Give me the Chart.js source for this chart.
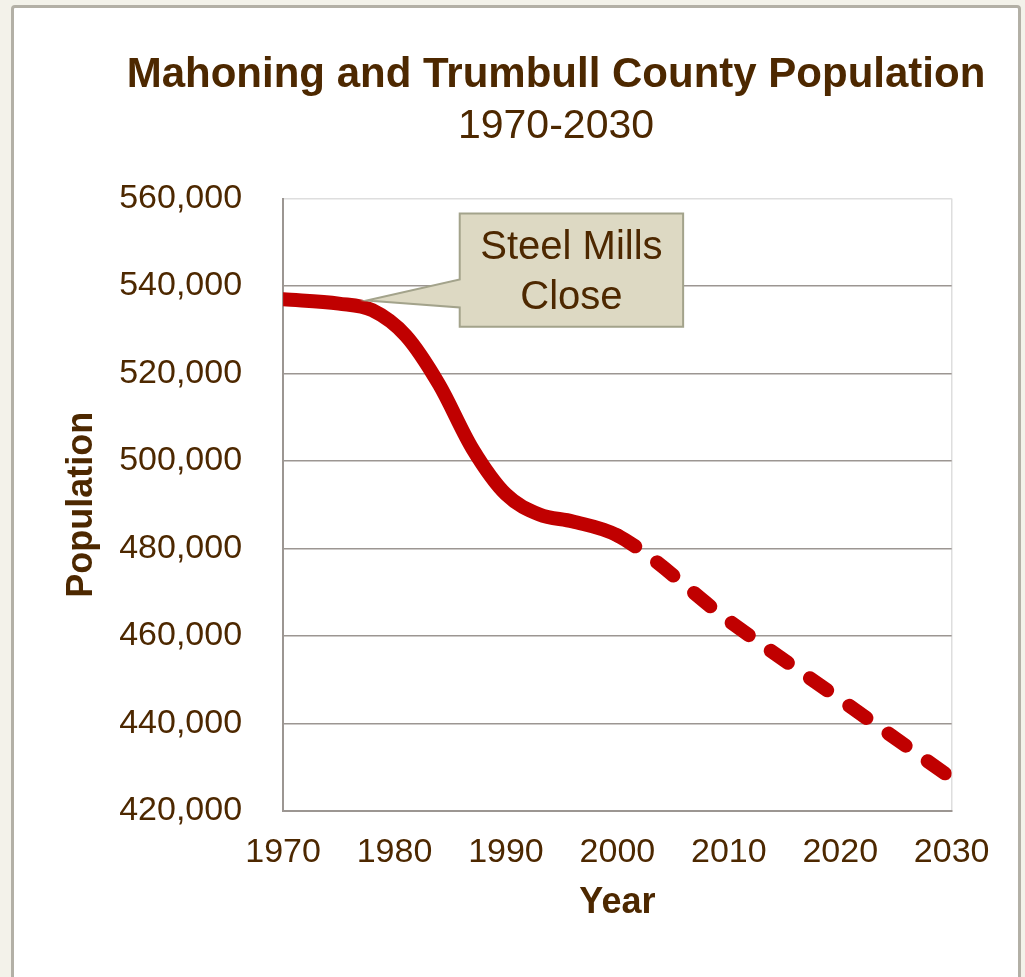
<!DOCTYPE html>
<html>
<head>
<meta charset="utf-8">
<title>Mahoning and Trumbull County Population</title>
<script src="https://cdn.jsdelivr.net/npm/chart.js@4.4.1/dist/chart.umd.min.js"></script>
<style>
    body {
        margin: 0;
        width: 1025px;
        height: 977px;
        overflow: hidden;
        position: relative;
        background: #f3f2ea;
    }
    #panel {
        position: absolute;
        left: 11px;
        top: 5px;
        width: 1004px;
        height: 1000px;
        background: #ffffff;
        border: 3px solid #b3b0a6;
        border-radius: 4px;
    }
    #populationChart {
        position: absolute;
        left: 0;
        top: 0;
    }
</style>
</head>
<body>
<div id="panel"></div>
<canvas id="populationChart" width="1011" height="977"></canvas>
<script>
// Données
const years = [1970, 1975, 1978, 1981, 1984, 1987, 1990, 1993, 1996, 2000, 2010, 2020, 2030];
const population = [537000, 536000, 534500, 528700, 517500, 502800, 492400, 487800, 486200, 483000, 463500, 445500, 427500];
const firstProjectedYear = 2000;

const xTickValues = [1970, 1980, 1990, 2000, 2010, 2020, 2030];
const yTickValues = [420000, 440000, 460000, 480000, 500000, 520000, 540000, 560000];

const calloutLines = ['Steel Mills', 'Close'];

const brown = '#4d2800';
const gridGrey = '#9c9692';
const borderLight = '#dedede';

Chart.defaults.font.family = '"Liberation Sans", Arial, sans-serif';
Chart.defaults.color = brown;

// Bulle "Steel Mills Close" placée avec les échelles
const calloutPlugin = {
    id: 'callout',
    afterDatasetsDraw(chart, args, opts) {
        const { ctx, scales: { x, y } } = chart;
        const left = x.getPixelForValue(opts.box.x0);
        const right = x.getPixelForValue(opts.box.x1);
        const top = y.getPixelForValue(opts.box.y0);
        const bottom = y.getPixelForValue(opts.box.y1);
        const base1 = y.getPixelForValue(opts.pointerBase[0]);
        const base2 = y.getPixelForValue(opts.pointerBase[1]);
        const tipX = x.getPixelForValue(opts.tip.x);
        const tipY = y.getPixelForValue(opts.tip.y);

        ctx.save();
        ctx.beginPath();
        ctx.moveTo(left, top);
        ctx.lineTo(right, top);
        ctx.lineTo(right, bottom);
        ctx.lineTo(left, bottom);
        ctx.lineTo(left, base2);
        ctx.lineTo(tipX, tipY);
        ctx.lineTo(left, base1);
        ctx.closePath();
        ctx.fillStyle = '#ddd9c3';
        ctx.fill();
        ctx.lineWidth = 2;
        ctx.strokeStyle = '#a3a38b';
        ctx.stroke();

        ctx.fillStyle = brown;
        ctx.font = '40px "Liberation Sans", Arial, sans-serif';
        ctx.textAlign = 'center';
        ctx.textBaseline = 'middle';
        const cx = (left + right) / 2;
        opts.lines.forEach((line, i) => {
            ctx.fillText(line, cx, top + 34 + i * 50);
        });
        ctx.restore();
    }
};

const ctx = document.getElementById('populationChart').getContext('2d');

new Chart(ctx, {
    type: 'line',
    data: {
        datasets: [{
            label: 'Population',
            data: years.map((year, i) => ({ x: year, y: population[i] })),
            borderColor: '#c00000',
            borderWidth: 14,
            borderCapStyle: 'round',
            borderJoinStyle: 'round',
            pointRadius: 0,
            pointHoverRadius: 0,
            cubicInterpolationMode: 'monotone',
            fill: false,
            segment: {
                // Projection en pointillés après 2000
                borderDash: seg => seg.p0.parsed.x >= firstProjectedYear ? [21, 27] : undefined
            }
        }]
    },
    options: {
        responsive: false,
        animation: false,
        layout: {
            padding: { left: 101, right: 0, top: 0, bottom: 52 }
        },
        plugins: {
            legend: { display: false },
            tooltip: { enabled: false },
            title: {
                display: true,
                text: 'Mahoning and Trumbull County Population',
                color: brown,
                font: { size: 42, weight: 'bold' },
                padding: { top: 50, bottom: 0 }
            },
            subtitle: {
                display: true,
                text: '1970-2030',
                color: brown,
                font: { size: 41 },
                padding: { top: 1.5, bottom: 47.5 }
            },
            callout: {
                lines: calloutLines,
                box: { x0: 1985.85, x1: 2005.9, y0: 556600, y1: 530700 },
                pointerBase: [541500, 535100],
                tip: { x: 1977.5, y: 536700 }
            }
        },
        scales: {
            x: {
                type: 'linear',
                min: 1970,
                max: 2030,
                afterBuildTicks: scale => {
                    scale.ticks = xTickValues.map(v => ({ value: v }));
                },
                ticks: {
                    color: brown,
                    font: { size: 34 },
                    padding: 21.5,
                    maxRotation: 0,
                    autoSkip: false,
                    callback: v => String(v)
                },
                grid: {
                    drawTicks: false,
                    lineWidth: 1.5,
                    color: c => (c.tick && c.tick.value === 2030) ? borderLight : 'rgba(0,0,0,0)'
                },
                border: { color: gridGrey, width: 2 },
                title: {
                    display: true,
                    text: 'Year',
                    color: brown,
                    font: { size: 36, weight: 'bold' },
                    padding: { top: -13, bottom: 0 }
                }
            },
            y: {
                min: 420000,
                max: 560000,
                afterBuildTicks: scale => {
                    scale.ticks = yTickValues.map(v => ({ value: v }));
                },
                ticks: {
                    color: brown,
                    font: { size: 34 },
                    padding: 41,
                    callback: v => v.toLocaleString('en-US')
                },
                grid: {
                    drawTicks: false,
                    lineWidth: 1.5,
                    color: c => (c.tick && c.tick.value === 560000) ? borderLight : gridGrey
                },
                border: { color: gridGrey, width: 2 },
                title: {
                    display: true,
                    text: 'Population',
                    color: brown,
                    font: { size: 36, weight: 'bold' },
                    padding: { top: -41, bottom: -25 }
                }
            }
        }
    },
    plugins: [calloutPlugin]
});
</script>
</body>
</html>
